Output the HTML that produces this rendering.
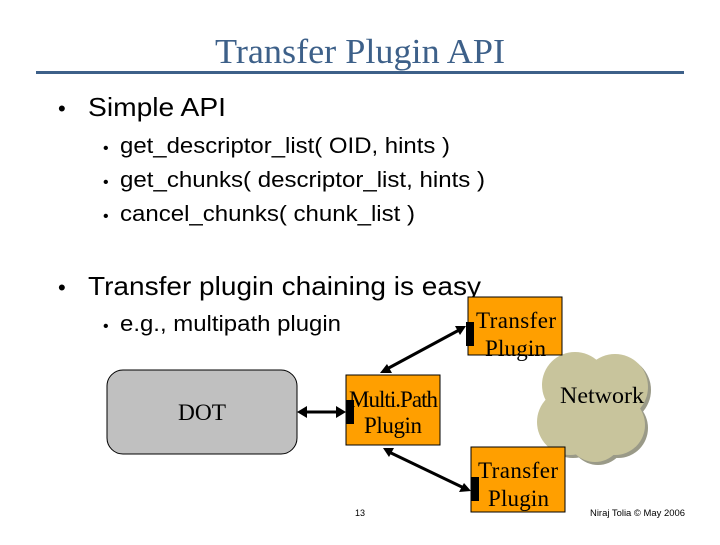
<!DOCTYPE html>
<html><head><style>html,body{margin:0;padding:0;background:#fff}</style></head><body>
<svg width="720" height="540" xmlns="http://www.w3.org/2000/svg" font-family="Liberation Sans, sans-serif">
<text x="215" y="63" font-family="Liberation Serif, serif" font-size="35" fill="#3d6089" textLength="290" lengthAdjust="spacingAndGlyphs">Transfer Plugin API</text>
<rect x="36" y="71" width="648" height="3" fill="#3d6089"/>
<g fill="#000">
<text x="58" y="116" font-size="22">•</text><text x="88" y="116" font-size="26" textLength="138" lengthAdjust="spacingAndGlyphs">Simple API</text>
<text x="103" y="153" font-size="16">•</text><text x="120" y="153" font-size="22" textLength="330" lengthAdjust="spacingAndGlyphs">get_descriptor_list( OID, hints )</text>
<text x="103" y="187" font-size="16">•</text><text x="120" y="187" font-size="22" textLength="365" lengthAdjust="spacingAndGlyphs">get_chunks( descriptor_list, hints )</text>
<text x="103" y="221" font-size="16">•</text><text x="120" y="221" font-size="22" textLength="295" lengthAdjust="spacingAndGlyphs">cancel_chunks( chunk_list )</text>
<text x="58" y="295" font-size="22">•</text><text x="88" y="295" font-size="26" textLength="393" lengthAdjust="spacingAndGlyphs">Transfer plugin chaining is easy</text>
<text x="103" y="331" font-size="16">•</text><text x="120" y="331" font-size="22" textLength="221" lengthAdjust="spacingAndGlyphs">e.g., multipath plugin</text>
</g>
<g fill="#9a9a88">
<circle cx="578" cy="388" r="33"/><circle cx="618" cy="390" r="33"/><circle cx="573" cy="425" r="33"/><circle cx="618" cy="428" r="30"/><circle cx="598" cy="437" r="28"/>
</g>
<g fill="#c8c49c">
<circle cx="575" cy="385" r="33"/><circle cx="615" cy="387" r="33"/><circle cx="570" cy="422" r="33"/><circle cx="615" cy="425" r="30"/><circle cx="595" cy="434" r="28"/>
</g>
<text x="560" y="403" font-family="Liberation Serif, serif" font-size="23" textLength="84" lengthAdjust="spacingAndGlyphs">Network</text>
<rect x="107" y="370" width="190" height="84" rx="16" fill="#c0c0c0" stroke="#000" stroke-width="1"/>
<text x="178" y="420" font-family="Liberation Serif, serif" font-size="23" textLength="48" lengthAdjust="spacingAndGlyphs">DOT</text>
<g fill="#ff9f00" stroke="#000" stroke-width="1">
<rect x="468" y="297" width="94" height="58"/>
<rect x="346" y="375" width="94" height="70"/>
<rect x="471" y="447" width="94" height="65"/>
</g>
<g fill="#000">
<rect x="466" y="322" width="8" height="24"/>
<rect x="346" y="400" width="8" height="24"/>
<rect x="471" y="477" width="8" height="24"/>
</g>
<g font-family="Liberation Serif, serif" font-size="23" lengthAdjust="spacingAndGlyphs">
<text x="476" y="328" textLength="80">Transfer</text><text x="485" y="356" textLength="61">Plugin</text>
<text x="349" y="407" textLength="89">Multi.Path</text><text x="364" y="433" textLength="58">Plugin</text>
<text x="478" y="478" textLength="80">Transfer</text><text x="488" y="506" textLength="61">Plugin</text>
</g>
<g stroke="#000" stroke-width="3">
<line x1="303" y1="412" x2="340" y2="412"/>
<line x1="385" y1="370" x2="461" y2="329"/>
<line x1="389" y1="452" x2="464" y2="488"/>
</g>
<g fill="#000">
<polygon points="297,412 307,406 307,418"/>
<polygon points="346,412 336,406 336,418"/>
<polygon points="380,373 387,364 392,373"/>
<polygon points="466,326 455,326 460,335"/>
<polygon points="383,448 394,448 389,457"/>
<polygon points="471,491 459,492 464,483"/>
</g>
<text x="360" y="516" font-size="9" text-anchor="middle">13</text>
<text x="590" y="516" font-size="9" textLength="95" lengthAdjust="spacingAndGlyphs">Niraj Tolia © May 2006</text>
</svg>
</body></html>
